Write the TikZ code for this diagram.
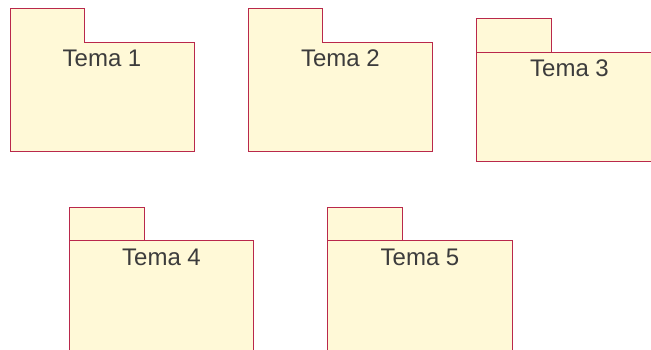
\documentclass[tikz,border=0pt]{standalone}
\usepackage{fontspec}
\setmainfont{Liberation Sans}
\definecolor{pkgfill}{RGB}{255,249,215}
\definecolor{pkgedge}{RGB}{185,40,75}
\definecolor{pkgtext}{RGB}{60,60,60}
\tikzset{
  pkg/.style={fill=pkgfill, draw=pkgedge, line width=0.9pt, line join=miter},
  pkglabel/.style={text=pkgtext, font=\fontsize{24}{28}\selectfont, anchor=base, inner sep=0pt}
}
\begin{document}
\begin{tikzpicture}[x=1pt,y=-1pt]
\useasboundingbox (0,0) rectangle (651,349);
\clip (0,0) rectangle (651,349);
% Tema 1 (single outline)
\draw[pkg] (10,8.3) -- (84.5,8.3) -- (84.5,42.3) -- (194,42.3) -- (194,151.7) -- (10,151.7) -- cycle;
\node[pkglabel] (t1) at (102,66.7) {Tema 1};
% Tema 2 (single outline)
\draw[pkg] (248.3,8.3) -- (322.7,8.3) -- (322.7,42.3) -- (432.5,42.3) -- (432.5,151.7) -- (248.3,151.7) -- cycle;
\node[pkglabel] (t2) at (340.4,66.7) {Tema 2};
% Tema 3 (tab + body)
\draw[pkg] (476.7,18.3) rectangle (551.7,52.3);
\draw[pkg] (476.7,52.3) rectangle (660.7,161.7);
\node[pkglabel] (t3) at (569.5,76.7) {Tema 3};
% Tema 4
\draw[pkg] (69.3,207.3) rectangle (144.3,240.7);
\draw[pkg] (69.3,240.7) rectangle (253.7,360);
\node[pkglabel] (t4) at (161.5,265.2) {Tema 4};
% Tema 5
\draw[pkg] (327.7,207.3) rectangle (402.7,240.7);
\draw[pkg] (327.7,240.7) rectangle (512.3,360);
\node[pkglabel] (t5) at (420,265.2) {Tema 5};
\end{tikzpicture}
\end{document}
